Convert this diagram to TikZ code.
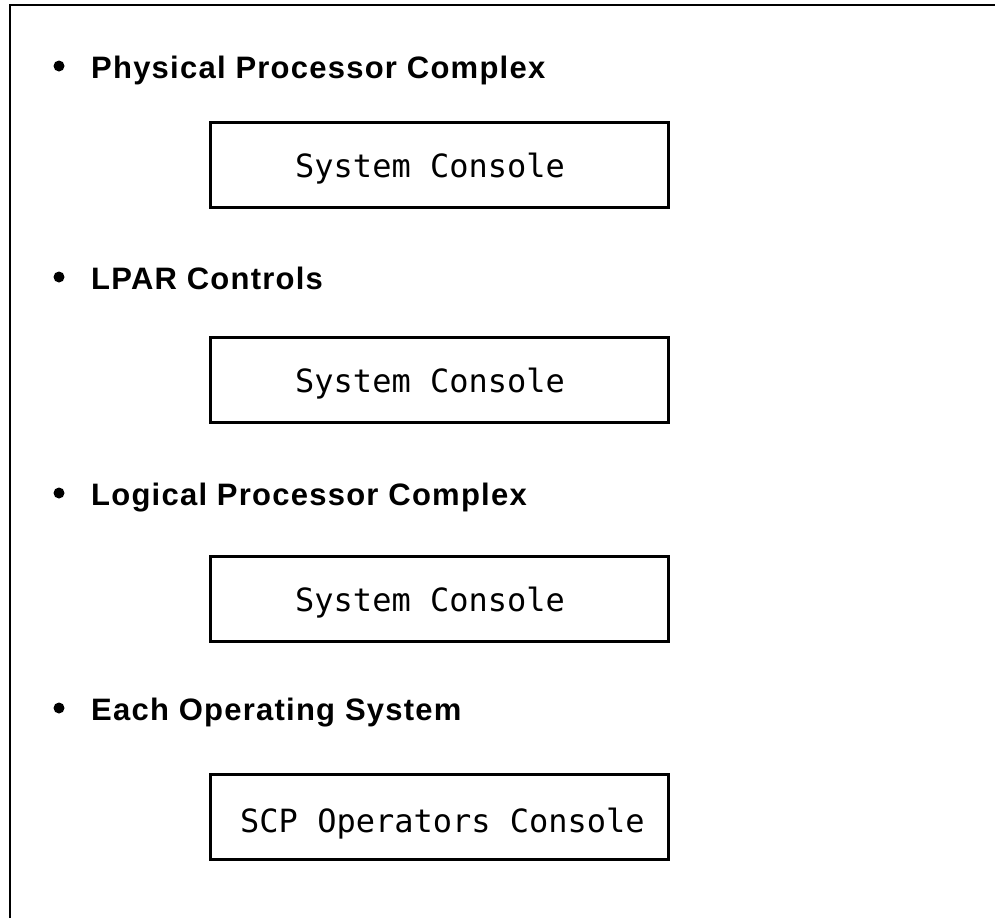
\documentclass[tikz,border=0pt]{standalone}
\usepackage{fontspec}
\setmainfont{Liberation Sans}
\newfontfamily\consolefont{DejaVu Sans Mono}
\begin{document}
\begin{tikzpicture}[x=1pt,y=-1pt,
  frameline/.style={line width=2pt},
  consolebox/.style={draw,line width=3pt,minimum width=458pt,minimum height=85pt,inner sep=0pt},
  consolelabel/.style={anchor=base west,inner sep=0pt,font=\consolefont\fontsize{32}{36}\selectfont},
  itemlabel/.style={anchor=base west,inner sep=0pt,font=\addfontfeatures{LetterSpace=4}\fontsize{31}{36}\selectfont\bfseries},
  dot/.style={circle,fill,inner sep=0pt,minimum size=11pt}]
\useasboundingbox (0,0) rectangle (995,918);
% outer frame, open towards the right and the bottom
\coordinate (fbl) at (10,918);
\coordinate (ftl) at (10,5);
\coordinate (ftr) at (995,5);
\draw[frameline] (fbl) -- (ftl) -- (ftr);
% bullet items
\node[dot] (d1) at (59,66) {};
\node[itemlabel] (i1) at (91,78) {Physical Processor Complex};
\node[dot] (d2) at (59,277) {};
\node[itemlabel] (i2) at (91,289) {LPAR Controls};
\node[dot] (d3) at (59,493) {};
\node[itemlabel] (i3) at (91,505) {Logical Processor Complex};
\node[dot] (d4) at (59,708) {};
\node[itemlabel] (i4) at (91,720) {Each Operating System};
% console boxes
\node[consolebox] (b1) at (439,164.5) {};
\node[consolelabel] (c1) at (295,177) {System Console};
\node[consolebox] (b2) at (439,380) {};
\node[consolelabel] (c2) at (295,392.5) {System Console};
\node[consolebox] (b3) at (439,599) {};
\node[consolelabel] (c3) at (295,611.5) {System Console};
\node[consolebox] (b4) at (439,817) {};
\node[consolelabel] (c4) at (240,832) {SCP Operators Console};
\end{tikzpicture}
\end{document}
